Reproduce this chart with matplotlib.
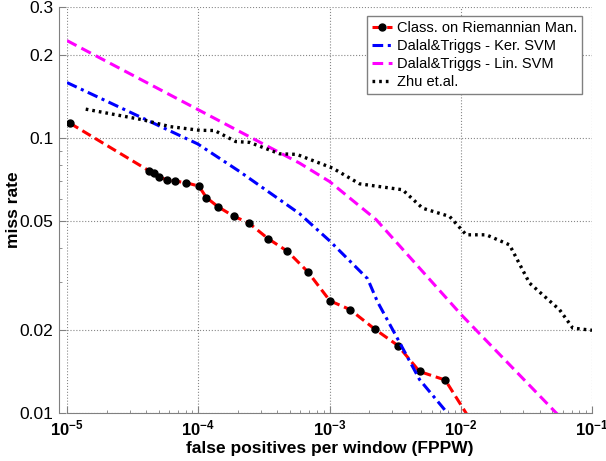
import numpy as np
import matplotlib
matplotlib.use('Agg')
import matplotlib.pyplot as plt
from matplotlib.ticker import FixedLocator, FixedFormatter, LogLocator, NullFormatter

plt.rcParams['font.family'] = 'Liberation Sans'
plt.rcParams['mathtext.fontset'] = 'custom'
plt.rcParams['mathtext.rm'] = 'Liberation Sans:bold'
plt.rcParams['mathtext.bf'] = 'Liberation Sans:bold'
plt.rcParams['mathtext.default'] = 'rm'

# Class. on Riemannian Man. (last point lies just below the axis)
riem_fppw = [1.05e-5, 4.21e-5, 4.57e-5, 5.02e-5, 5.78e-5, 6.65e-5, 8.12e-5,
             1.01e-4, 1.153e-4, 1.413e-4, 1.86e-4, 2.42e-4, 3.40e-4, 4.77e-4,
             6.81e-4, 1.007e-3, 1.43e-3, 2.21e-3, 3.32e-3, 4.85e-3, 7.62e-3, 1.26e-2]
riem_miss = [0.1134, 0.0761, 0.0746, 0.0722, 0.0705, 0.0698, 0.0688,
             0.0669, 0.0608, 0.0563, 0.0520, 0.0492, 0.0431, 0.0388,
             0.0327, 0.0256, 0.0238, 0.0202, 0.0176, 0.01416, 0.01318, 0.009]

# Dalal&Triggs - Ker. SVM
ker_fppw = [1e-5, 9.89e-5, 2.066e-4, 5.92e-4, 1.002e-3, 1.95e-3, 2.32e-3,
            3.24e-3, 4.86e-3, 8.22e-3]
ker_miss = [0.1593, 0.0953, 0.0756, 0.0531, 0.0423, 0.0308, 0.0254,
            0.01894, 0.01322, 0.00978]

# Dalal&Triggs - Lin. SVM
lin_fppw = [1e-5, 5.92e-4, 1.002e-3, 2.27e-3, 1.009e-2, 5.34e-2, 6.0e-2]
lin_miss = [0.2264, 0.0811, 0.0695, 0.0505, 0.02278, 0.0100, 0.0095]

# Zhu et.al.
zhu_fppw = [1.388e-5, 3.79e-5, 6.06e-5, 1.025e-4, 1.333e-4, 1.927e-4, 2.463e-4,
            4.17e-4, 5.62e-4, 1.056e-3, 1.695e-3, 3.60e-3, 5.12e-3, 8.22e-3,
            1.101e-2, 1.563e-2, 2.353e-2, 3.34e-2, 5.66e-2, 7.14e-2, 0.1]
zhu_miss = [0.1275, 0.1166, 0.1102, 0.1068, 0.1066, 0.0972, 0.0965,
            0.0877, 0.0873, 0.0778, 0.0682, 0.0649, 0.0556, 0.0519,
            0.0445, 0.0445, 0.0409, 0.0297, 0.02375, 0.02037, 0.0200]

xticks = [1e-5, 1e-4, 1e-3, 1e-2, 1e-1]
xticklabels = [r'$10^{-5}$', r'$10^{-4}$', r'$10^{-3}$', r'$10^{-2}$', r'$10^{-1}$']
yticks = [0.01, 0.02, 0.05, 0.1, 0.2, 0.3]
yticklabels = ['0.01', '0.02', '0.05', '0.1', '0.2', '0.3']

fig = plt.figure(figsize=(6.06, 4.61), dpi=100)
ax = fig.add_axes([0.1106, 0.1041, 0.8663, 0.8807])
ax.set_xscale('log')
ax.set_yscale('log')

ax.plot(riem_fppw, riem_miss, color='red', ls=(0, (3.2, 1.6)), lw=2.2,
        marker='o', ms=5, mfc='black', mec='black', markevery=list(range(len(riem_fppw) - 1)),
        label='Class. on Riemannian Man.')
ax.plot(ker_fppw, ker_miss, color='blue', ls=(0, (3.5, 1.5, 1, 1.5)), lw=2.2,
        label='Dalal&Triggs - Ker. SVM')
ax.plot(lin_fppw, lin_miss, color='magenta', ls=(0, (3.5, 1.8)), lw=2.2,
        label='Dalal&Triggs - Lin. SVM')
ax.plot(zhu_fppw, zhu_miss, color='black', ls=(0, (0.8, 1.2)), lw=2.4,
        label='Zhu et.al.')

ax.set_xlim(1e-5, 1e-1)
ax.set_ylim(0.01, 0.3)

ax.xaxis.set_major_locator(FixedLocator(xticks))
ax.xaxis.set_major_formatter(FixedFormatter(xticklabels))
ax.xaxis.set_minor_locator(LogLocator(base=10, subs=np.arange(2, 10)))
ax.xaxis.set_minor_formatter(NullFormatter())
ax.yaxis.set_major_locator(FixedLocator(yticks))
ax.yaxis.set_major_formatter(FixedFormatter(yticklabels))
ax.yaxis.set_minor_locator(LogLocator(base=10, subs=np.arange(2, 10)))
ax.yaxis.set_minor_formatter(NullFormatter())

ax.grid(True, which='major', ls=':', color='#888888', lw=0.8)
ax.tick_params(which='both', direction='in', color='#808080')
ax.tick_params(which='major', length=5, pad=4)
ax.tick_params(axis='y', which='major', labelsize=12.5)
ax.tick_params(axis='x', which='major', labelsize=12)
for lbl in ax.get_yticklabels():
    lbl.set_fontweight('bold')

for s in ['top', 'right']:
    ax.spines[s].set_visible(False)
for s in ['left', 'bottom']:
    ax.spines[s].set_color('#808080')
ax.spines['left'].set_position(('outward', 6))

ax.set_xlabel('false positives per window (FPPW)', fontsize=12.5, fontweight='bold', labelpad=2)
ax.set_ylabel('miss rate', fontsize=12.5, fontweight='bold')
ax.yaxis.set_label_coords(-0.088, 0.5)

leg = ax.legend(loc='upper right', bbox_to_anchor=(0.981, 0.978), borderaxespad=0,
                fontsize=10.5, fancybox=False, framealpha=1, edgecolor='#808080',
                handlelength=1.4, handletextpad=0.3, labelspacing=0.28, borderpad=0.35)
leg.get_frame().set_linewidth(1.0)

fig.savefig('out.png', dpi=100)
